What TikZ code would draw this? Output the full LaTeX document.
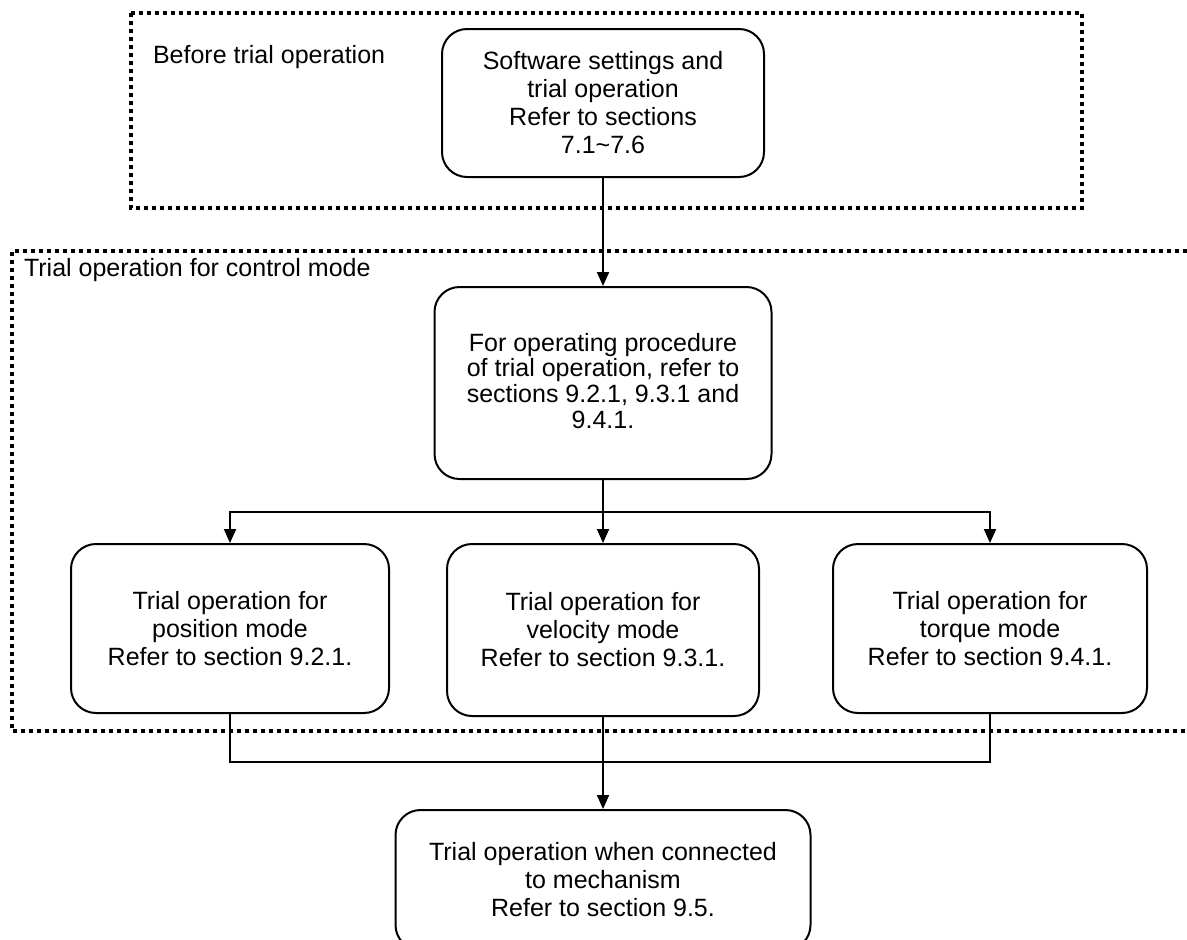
\documentclass[tikz,border=0pt]{standalone}
\usepackage{fontspec}
\setmainfont{Liberation Sans}
\usetikzlibrary{arrows.meta}

\begin{document}
\begin{tikzpicture}[>={Triangle[length=7pt,width=6pt]}, x=0.5pt, y=-0.5pt,
        txt/.style={font=\fontsize{12.5pt}{14pt}\selectfont},
        stepbox/.style={txt, draw, line width=1pt, rounded corners=12.5pt, align=center, inner sep=2pt},
        dotbox/.style={line width=1.6pt, dash pattern=on 2pt off 2pt},
        link/.style={line width=1pt}]
        \useasboundingbox (0,0) rectangle (1187,939);
        % dotted frames
        \draw[dotbox] (131,13) rectangle (1082,208);
        \draw[dotbox] (1195,251) -- (12,251) -- (12,731) -- (1195,731);
        \node[txt, anchor=west] (before) at (146,57) {Before trial operation};
        \node[txt, anchor=west] (control) at (17,270) {Trial operation for control mode};
        % boxes
        \node[stepbox, minimum width=161pt, minimum height=74pt] (soft) at (603,103)
            {Software settings and\\trial operation\\Refer to sections\\7.1\textasciitilde7.6};
        \node[stepbox, minimum width=168.5pt, minimum height=96pt, font=\fontsize{12.5pt}{12.8pt}\selectfont] (proc) at (603,383)
            {\\[-6pt]For operating procedure\\of trial operation, refer to\\sections 9.2.1, 9.3.1 and\\9.4.1.};
        \node[stepbox, minimum width=159pt, minimum height=84.5pt] (pos) at (230,628.5)
            {Trial operation for\\position mode\\Refer to section 9.2.1.};
        \node[stepbox, minimum width=156pt, minimum height=86pt] (vel) at (603,630)
            {Trial operation for\\velocity mode\\Refer to section 9.3.1.};
        \node[stepbox, minimum width=157pt, minimum height=84.5pt] (tor) at (990,628.5)
            {Trial operation for\\torque mode\\Refer to section 9.4.1.};
        \node[stepbox, minimum width=207.5pt, minimum height=70pt] (mech) at (603,880)
            {Trial operation when connected\\to mechanism\\Refer to section 9.5.};
        % connectors
        \coordinate (split) at (603,512);
        \coordinate (merge) at (603,762);
        \draw[link, ->] (soft) -- (proc);
        \draw[link] (proc) -- (split);
        \draw[link, ->] (split) -| (pos);
        \draw[link, ->] (split) -- (vel);
        \draw[link, ->] (split) -| (tor);
        \draw[link] (pos) |- (merge) -| (tor);
        \draw[link, ->] (vel) -- (mech);
\end{tikzpicture}
\end{document}
